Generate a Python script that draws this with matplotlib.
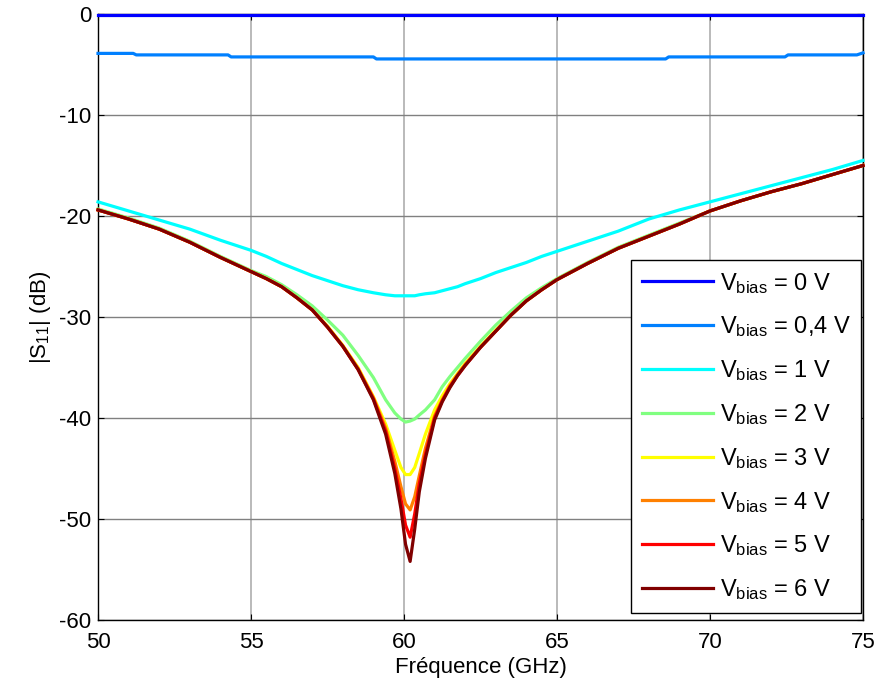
import numpy as np
import matplotlib.pyplot as plt

plt.rcParams['font.family'] = ['Liberation Sans', 'DejaVu Sans']
plt.rcParams['mathtext.fontset'] = 'custom'
plt.rcParams['mathtext.rm'] = 'Liberation Sans'
plt.rcParams['axes.unicode_minus'] = False

# frequence commune (GHz)
freq = [50, 51, 52, 53, 54, 55, 55.5, 56, 56.5, 57, 57.5, 58, 58.5, 59, 59.4,
        59.7, 59.9, 60.05, 60.2, 60.35, 60.5, 60.7, 61, 61.25, 61.5, 61.75, 62,
        62.5, 63, 63.5, 64, 64.5, 65, 66, 67, 68, 69, 70, 71, 72, 73, 74, 75]

# Vbias = 0 V et 0,4 V (courbes quasi plates)
freq_0 = [50, 75]
s11_0v = [-0.1, -0.1]
freq_04 = [50, 51.15, 51.25, 54.25, 54.35, 59.0, 59.1, 68.55, 68.65, 72.45,
           72.55, 74.8, 75]
s11_04v = [-3.9, -3.9, -4.05, -4.05, -4.25, -4.25, -4.45, -4.45, -4.25, -4.25,
           -4.05, -4.05, -3.85]

s11_1v = [-18.6, -19.5, -20.4, -21.3, -22.4, -23.4, -24.0, -24.7, -25.3, -25.9,
          -26.4, -26.9, -27.3, -27.6, -27.8, -27.9, -27.9, -27.9, -27.9, -27.9,
          -27.8, -27.7, -27.6, -27.4, -27.2, -27.0, -26.7, -26.2, -25.6, -25.1,
          -24.6, -24.0, -23.5, -22.5, -21.5, -20.3, -19.4, -18.6, -17.8, -17.0,
          -16.2, -15.4, -14.5]
s11_2v = [-19.3, -20.2, -21.2, -22.5, -24.0, -25.4, -26.0, -26.8, -27.8, -28.9,
          -30.3, -31.8, -33.8, -36.0, -38.2, -39.5, -40.1, -40.4, -40.3, -40.1,
          -39.7, -39.2, -38.2, -36.9, -35.9, -35.0, -34.1, -32.4, -30.8, -29.4,
          -28.1, -27.1, -26.2, -24.6, -23.1, -21.9, -20.7, -19.5, -18.5, -17.6,
          -16.8, -15.9, -15.0]
s11_3v = [-19.4, -20.3, -21.3, -22.6, -24.1, -25.5, -26.2, -27.0, -28.1, -29.3,
          -30.9, -32.8, -35.0, -37.9, -40.6, -43.2, -44.9, -45.6, -45.6, -44.9,
          -43.5, -41.6, -39.2, -37.8, -36.6, -35.6, -34.6, -32.9, -31.3, -29.8,
          -28.4, -27.3, -26.3, -24.7, -23.2, -22.0, -20.8, -19.5, -18.5, -17.6,
          -16.8, -15.9, -15.0]
s11_4v = [-19.4, -20.3, -21.3, -22.6, -24.1, -25.5, -26.2, -27.0, -28.1, -29.3,
          -31.0, -32.9, -35.1, -38.0, -41.0, -44.3, -46.8, -48.5, -49.1, -47.8,
          -45.7, -43.0, -39.8, -38.2, -36.8, -35.7, -34.7, -33.0, -31.4, -29.8,
          -28.4, -27.3, -26.3, -24.7, -23.2, -22.0, -20.8, -19.5, -18.5, -17.6,
          -16.8, -15.9, -15.0]
s11_5v = [-19.4, -20.3, -21.3, -22.6, -24.1, -25.5, -26.2, -27.0, -28.1, -29.3,
          -31.0, -32.9, -35.2, -38.1, -41.3, -45.0, -48.0, -50.6, -51.8, -49.5,
          -46.5, -43.6, -40.0, -38.3, -36.9, -35.8, -34.8, -33.0, -31.4, -29.8,
          -28.4, -27.3, -26.3, -24.7, -23.2, -22.0, -20.8, -19.5, -18.5, -17.6,
          -16.8, -15.9, -15.0]
s11_6v = [-19.4, -20.3, -21.3, -22.6, -24.1, -25.5, -26.2, -27.0, -28.1, -29.3,
          -31.0, -32.9, -35.2, -38.2, -41.6, -45.5, -49.0, -52.5, -54.2, -51.0,
          -47.3, -44.0, -40.2, -38.4, -37.0, -35.8, -34.8, -33.0, -31.4, -29.8,
          -28.4, -27.3, -26.3, -24.7, -23.2, -22.0, -20.8, -19.5, -18.5, -17.6,
          -16.8, -15.9, -15.0]

labels = ['0', '0,4', '1', '2', '3', '4', '5', '6']
couleurs = [(0, 0, 1), (0, 0.5, 1), (0, 1, 1), (0.5, 1, 0.5),
            (1, 1, 0), (1, 0.5, 0), (1, 0, 0), (0.5, 0, 0)]

fig = plt.figure(figsize=(8.79, 6.86), dpi=100)
ax = fig.add_axes([0.1115, 0.0962, 0.8703, 0.8834])

series = [(freq_0, s11_0v), (freq_04, s11_04v), (freq, s11_1v), (freq, s11_2v),
          (freq, s11_3v), (freq, s11_4v), (freq, s11_5v), (freq, s11_6v)]
for (f, s), lab, c in zip(series, labels, couleurs):
    ax.plot(f, s, color=c, lw=2.3, clip_on=False, zorder=3,
            label=r'$\mathregular{V_{bias}}$ = ' + lab + ' V')

ax.set_xlim(50, 75)
ax.set_ylim(-60, 0)
ax.set_xticks(np.arange(50, 76, 5))
ax.set_yticks(np.arange(-60, 1, 10))
ax.xaxis.grid(True, color='#b4b4b4', lw=1.3)
ax.yaxis.grid(True, color='#808080', lw=1.0)
ax.set_axisbelow(True)
ax.tick_params(direction='in', top=True, right=True, length=4, labelsize=16)
ax.tick_params(axis='x', pad=8.5)
ax.tick_params(axis='y', pad=5)
for sp in ax.spines.values():
    sp.set_linewidth(1.0)

ax.set_xlabel('Fréquence (GHz)', fontsize=16, labelpad=3)
ax.set_ylabel(r'|$\mathregular{S_{11}}$| (dB)', fontsize=16, labelpad=4)

leg = ax.legend(loc='lower right', bbox_to_anchor=(0.998, 0.012), borderaxespad=0,
                fontsize=17, fancybox=False, edgecolor='black', framealpha=1,
                handlelength=3.0, handletextpad=0.3, labelspacing=0.8,
                borderpad=0.45)
leg.get_frame().set_linewidth(1.0)

plt.savefig('out.png', dpi=100)
